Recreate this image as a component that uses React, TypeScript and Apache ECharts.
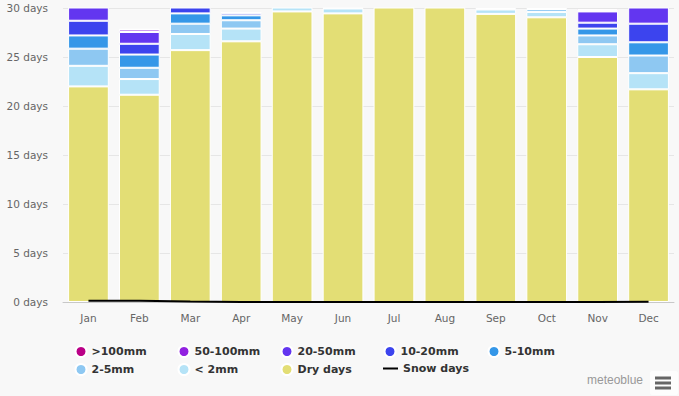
import React, { useEffect, useRef } from "react";
import * as echarts from "echarts";

const months = ["Jan", "Feb", "Mar", "Apr", "May", "Jun", "Jul", "Aug", "Sep", "Oct", "Nov", "Dec"];
const dryDays = [22.0, 21.15, 25.7, 26.6, 29.65, 29.45, 30.8, 30.7, 29.4, 29.05, 25.0, 21.7];
const under2mm = [2.1, 1.6, 1.65, 1.3, 0.9, 0.5, 0.2, 0.3, 0.45, 0.55, 1.3, 1.65];
const mm2to5 = [1.75, 1.15, 1.05, 0.85, 0.3, 0.05, 0, 0, 0.15, 0.3, 0.9, 1.8];
const mm5to10 = [1.35, 1.35, 1.05, 0.5, 0.1, 0, 0, 0, 0, 0.1, 0.7, 1.35];
const mm10to20 = [1.5, 1.1, 0.8, 0.25, 0.05, 0, 0, 0, 0, 0, 0.6, 1.9];
const mm20to50 = [1.8, 1.2, 0.6, 0.05, 0, 0, 0, 0, 0, 0, 1.15, 2.0];
const mm50to100 = [0.4, 0.25, 0.1, 0, 0, 0, 0, 0, 0, 0, 0.1, 0.4];
const over100mm = [0.1, 0.05, 0, 0, 0, 0, 0, 0, 0, 0, 0.15, 0.2];
const snowDays = [0.12, 0.12, 0.04, 0.01, 0, 0, 0, 0, 0, 0, 0.01, 0.02];
const yTicks = [0, 5, 10, 15, 20, 25, 30];

const barSeries = [
  { name: "Dry days", data: dryDays, color: "#e3de75" },
  { name: "< 2mm", data: under2mm, color: "#b5e3f7" },
  { name: "2-5mm", data: mm2to5, color: "#8ec8f2" },
  { name: "5-10mm", data: mm5to10, color: "#3597e8" },
  { name: "10-20mm", data: mm10to20, color: "#3c44ee" },
  { name: "20-50mm", data: mm20to50, color: "#6336f0" },
  { name: "50-100mm", data: mm50to100, color: "#9121e0" },
  { name: ">100mm", data: over100mm, color: "#ba0087" },
];

const legendItems = [
  { name: ">100mm", left: 74.5, row: 0 },
  { name: "50-100mm", left: 177.5, row: 0 },
  { name: "20-50mm", left: 280.5, row: 0 },
  { name: "10-20mm", left: 383.5, row: 0 },
  { name: "5-10mm", left: 487.5, row: 0 },
  { name: "2-5mm", left: 74.5, row: 1 },
  { name: "< 2mm", left: 177.5, row: 1 },
  { name: "Dry days", left: 280.5, row: 1 },
  { name: "Snow days", left: 383, row: 1 },
];

export default function App() {
  const ref = useRef<HTMLDivElement>(null);
  useEffect(() => {
    document.body.style.margin = "0";
    const chart = echarts.init(ref.current!, undefined, { renderer: "svg" });
    const font = "DejaVu Sans";
    const legends = legendItems.map((l) => {
      const isLine = l.name === "Snow days";
      return {
        data: [{ name: l.name, icon: isLine ? "rect" : "circle" }],
        left: l.left,
        top: l.row === 0 ? 345 : 363,
        itemWidth: isLine ? 15 : 11,
        itemHeight: isLine ? 2 : 11,
        padding: 0,
        selectedMode: false,
        textStyle: { fontFamily: font, fontSize: 11, fontWeight: "bold", color: "#333333" },
      };
    });
    chart.setOption({
      animation: false,
      backgroundColor: "#f8f8f8",
      grid: { left: 63, right: 5, top: 8, bottom: 94, containLabel: false },
      legend: legends,
      xAxis: {
        type: "category",
        data: months,
        axisTick: { show: false },
        axisLine: { lineStyle: { color: "#c8c8c8" } },
        axisLabel: { color: "#666666", fontFamily: font, fontSize: 10.5, margin: 10 },
      },
      yAxis: {
        type: "value",
        min: yTicks[0],
        max: yTicks[yTicks.length - 1],
        interval: 5,
        axisLabel: { color: "#666666", fontFamily: font, fontSize: 10.5, margin: 15, formatter: "{value} days" },
        splitLine: { lineStyle: { color: "#e6e6e6" } },
      },
      series: [
        ...barSeries.map((s) => ({
          name: s.name,
          type: "bar",
          stack: "days",
          barCategoryGap: "20%",
          clip: true,
          data: s.data.map((v) => (v === 0 ? "-" : v)),
          itemStyle: { color: s.color, borderColor: "#ffffff", borderWidth: 1 },
        })),
        {
          name: "Snow days",
          type: "line",
          data: snowDays,
          symbol: "none",
          z: 5,
          lineStyle: { color: "#000000", width: 2 },
          itemStyle: { color: "#000000" },
        },
      ],
      graphic: [
        {
          type: "text",
          left: 587,
          top: 374,
          style: { text: "meteoblue", fontFamily: "Liberation Sans", fontSize: 12, fill: "#999999" },
        },
        {
          type: "rect",
          shape: { x: 650, y: 371, width: 28, height: 24, r: 3 },
          style: { fill: "#fdfdfd" },
        },
        { type: "rect", shape: { x: 655, y: 376.5, width: 16, height: 3 }, style: { fill: "#666666" } },
        { type: "rect", shape: { x: 655, y: 381.5, width: 16, height: 3 }, style: { fill: "#666666" } },
        { type: "rect", shape: { x: 655, y: 386.5, width: 16, height: 3 }, style: { fill: "#666666" } },
      ],
    });
    return () => chart.dispose();
  }, []);
  return <div ref={ref} style={{ width: 679, height: 396, position: "absolute", left: 0, top: 0 }} />;
}
